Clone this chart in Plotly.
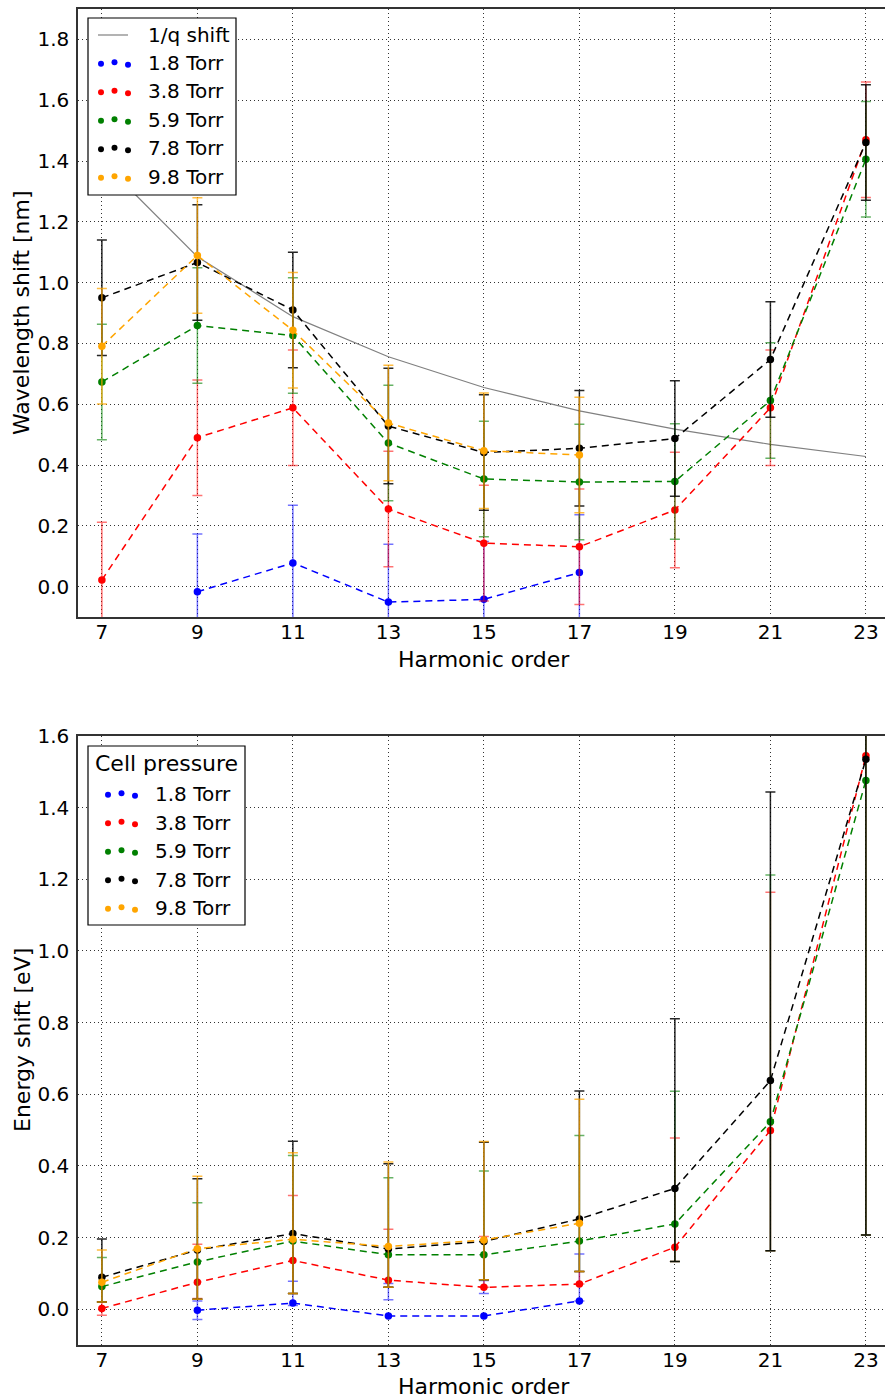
import plotly.graph_objects as go

W, H = 885, 1399

# ---------------- data ----------------
harmonics = [7, 9, 11, 13, 15, 17, 19, 21, 23]
pressures = ["1.8 Torr", "3.8 Torr", "5.9 Torr", "7.8 Torr", "9.8 Torr"]
colors = ["blue", "red", "green", "black", "orange"]
err_colors = ["rgba(0,0,255,0.55)", "rgba(255,0,0,0.55)", "rgba(0,128,0,0.6)",
              "rgba(0,0,0,0.85)", "rgba(255,165,0,0.75)"]

# wavelength shift [nm]
wl_blue = [None, -0.017, 0.078, -0.051, -0.042, 0.046, None, None, None]
wl_red = [0.022, 0.490, 0.588, 0.255, 0.143, 0.131, 0.252, 0.588, 1.470]
wl_green = [0.673, 0.859, 0.826, 0.472, 0.354, 0.344, 0.346, 0.612, 1.406]
wl_black = [0.950, 1.066, 0.910, 0.528, 0.441, 0.455, 0.487, 0.747, 1.461]
wl_orange = [0.791, 1.089, 0.843, 0.538, 0.447, 0.433, None, None, None]
wl_err = 0.19

# 1/q shift reference curve
inv_q_shift = [1.40, 1.085, 0.888, 0.756, 0.655, 0.578, 0.518, 0.468, 0.428]

# energy shift [eV]
en_blue = [None, -0.003, 0.017, -0.019, -0.019, 0.023, None, None, None]
en_red = [0.002, 0.075, 0.136, 0.081, 0.061, 0.070, 0.173, 0.499, 1.545]
en_green = [0.063, 0.132, 0.190, 0.152, 0.152, 0.190, 0.238, 0.523, 1.476]
en_black = [0.089, 0.165, 0.211, 0.168, 0.189, 0.252, 0.337, 0.638, 1.535]
en_orange = [0.075, 0.169, 0.195, 0.175, 0.193, 0.240, None, None, None]

# energy error bar upper / lower ends [eV]
en_blue_hi = [None, 0.023, 0.078, 0.072, 0.080, 0.154, None, None, None]
en_blue_lo = [None, -0.029, 0.010, 0.026, 0.044, 0.023, None, None, None]
en_red_hi = [0.021, 0.181, 0.317, 0.223, 0.203, 0.105, 0.478, 1.164, 2.60]
en_red_lo = [-0.017, 0.030, 0.044, 0.061, 0.061, 0.070, 0.133, 0.163, 0.207]
en_green_hi = [0.144, 0.297, 0.429, 0.367, 0.386, 0.485, 0.608, 1.212, 2.60]
en_green_lo = [0.020, 0.028, 0.044, 0.061, 0.082, 0.105, 0.133, 0.163, 0.207]
en_black_hi = [0.196, 0.364, 0.469, 0.406, 0.466, 0.609, 0.811, 1.444, 2.90]
en_black_lo = [0.020, 0.028, 0.044, 0.061, 0.082, 0.105, 0.133, 0.163, 0.207]
en_orange_hi = [0.165, 0.371, 0.437, 0.411, 0.468, 0.586, None, None, None]
en_orange_lo = [0.020, 0.028, 0.044, 0.061, 0.082, 0.105, None, None, None]

wl_series = [wl_blue, wl_red, wl_green, wl_black, wl_orange]
en_series = [en_blue, en_red, en_green, en_black, en_orange]
en_hi = [en_blue_hi, en_red_hi, en_green_hi, en_black_hi, en_orange_hi]
en_lo = [en_blue_lo, en_red_lo, en_green_lo, en_black_lo, en_orange_lo]

FONT = "DejaVu Sans"


def px(x):
    return x / W


def py(y):
    return 1 - y / H


fig = go.Figure()

# top: 1/q reference
fig.add_trace(go.Scatter(x=harmonics, y=inv_q_shift, mode="lines",
                         line=dict(color="gray", width=1.2),
                         xaxis="x", yaxis="y", showlegend=False))

for vals, c, ec in zip(wl_series, colors, err_colors):
    errs = [None if v is None else wl_err for v in vals]
    fig.add_trace(go.Scatter(
        x=harmonics, y=vals, mode="lines+markers",
        line=dict(color=c, width=1.5, dash="7px,5px"),
        marker=dict(color=c, size=7.5),
        error_y=dict(type="data", array=errs, symmetric=True,
                     color=ec, thickness=1.5, width=5),
        xaxis="x", yaxis="y", showlegend=False))

for vals, hi, lo, c, ec in zip(en_series, en_hi, en_lo, colors, err_colors):
    plus = [None if v is None else h - v for v, h in zip(vals, hi)]
    minus = [None if v is None else v - l for v, l in zip(vals, lo)]
    fig.add_trace(go.Scatter(
        x=harmonics, y=vals, mode="lines+markers",
        line=dict(color=c, width=1.5, dash="7px,5px"),
        marker=dict(color=c, size=7.5),
        error_y=dict(type="data", array=plus, arrayminus=minus, symmetric=False,
                     color=ec, thickness=1.5, width=5),
        xaxis="x2", yaxis="y2", showlegend=False))

axis_common = dict(
    showline=True, linecolor="#333", linewidth=1.5,
    showgrid=True, gridcolor="rgba(0,0,0,0.8)", gridwidth=1, griddash="1px,3px",
    zeroline=False, ticks="", automargin=False,
    tickfont=dict(family=FONT, size=20, color="black"),
)

x_dom = [px(78), 1.0]
fig.update_layout(
    width=W, height=H,
    margin=dict(l=0, r=0, t=0, b=0, pad=0),
    paper_bgcolor="white", plot_bgcolor="white",
    showlegend=False,
    xaxis=dict(domain=x_dom, anchor="y", range=[6.5, 23.4], tickvals=harmonics,
               mirror=True, ticklabelstandoff=-4, **axis_common),
    yaxis=dict(domain=[py(617), py(9)], anchor="x", range=[-0.1, 1.9],
               tick0=0, dtick=0.2, tickformat=".1f", ticklabelstandoff=3,
               **axis_common),
    xaxis2=dict(domain=x_dom, anchor="y2", range=[6.5, 23.4], tickvals=harmonics,
                mirror=True, ticklabelstandoff=-4, **axis_common),
    yaxis2=dict(domain=[py(1345), py(736)], anchor="x2", range=[-0.1, 1.6],
                tick0=0, dtick=0.2, tickformat=".1f", ticklabelstandoff=3,
                **axis_common),
)

annotations = []
shapes = []

LABEL = dict(family=FONT, size=22, color="black")
annotations.append(dict(text="Harmonic order", x=px(484), y=py(659), xref="paper", yref="paper",
                        showarrow=False, font=LABEL, xanchor="center", yanchor="middle"))
annotations.append(dict(text="Harmonic order", x=px(484), y=py(1386), xref="paper", yref="paper",
                        showarrow=False, font=LABEL, xanchor="center", yanchor="middle"))
annotations.append(dict(text="Wavelength shift [nm]", x=px(22), y=py(313), xref="paper", yref="paper",
                        showarrow=False, font=LABEL, textangle=-90, xanchor="center", yanchor="middle"))
annotations.append(dict(text="Energy shift [eV]", x=px(22), y=py(1040), xref="paper", yref="paper",
                        showarrow=False, font=LABEL, textangle=-90, xanchor="center", yanchor="middle"))

LEG = dict(family=FONT, size=20, color="black")

# top legend
shapes.append(dict(type="rect", xref="paper", yref="paper", layer="above",
                   x0=px(88), x1=px(236), y0=py(195), y1=py(18),
                   line=dict(color="black", width=1.2), fillcolor="white"))
shapes.append(dict(type="line", xref="paper", yref="paper", layer="above",
                   x0=px(98), x1=px(128), y0=py(35), y1=py(35),
                   line=dict(color="gray", width=1.2)))
annotations.append(dict(text="1/q shift", x=px(146), y=py(35), xref="paper", yref="paper",
                        showarrow=False, font=LEG, xanchor="left", yanchor="middle"))
dot_dx = [0, 13.5, 27]
dot_dy = [0.7, -0.8, 1.7]
r = 3.0
for i, (name, c) in enumerate(zip(pressures, colors)):
    yc = 63 + i * 28.5
    for dx, dy in zip(dot_dx, dot_dy):
        cx, cy = 101 + dx, yc + dy
        shapes.append(dict(type="circle", xref="paper", yref="paper", layer="above",
                           x0=px(cx - r), x1=px(cx + r), y0=py(cy + r), y1=py(cy - r),
                           line=dict(width=0), fillcolor=c))
    annotations.append(dict(text=name, x=px(146), y=py(yc), xref="paper", yref="paper",
                            showarrow=False, font=LEG, xanchor="left", yanchor="middle"))

# bottom legend
shapes.append(dict(type="rect", xref="paper", yref="paper", layer="above",
                   x0=px(88), x1=px(245), y0=py(925), y1=py(746),
                   line=dict(color="black", width=1.2), fillcolor="white"))
annotations.append(dict(text="Cell pressure", x=px(166.5), y=py(763), xref="paper", yref="paper",
                        showarrow=False, font=dict(family=FONT, size=22, color="black"),
                        xanchor="center", yanchor="middle"))
for i, (name, c) in enumerate(zip(pressures, colors)):
    yc = 794 + i * 28.5
    for dx, dy in zip(dot_dx, dot_dy):
        cx, cy = 108 + dx, yc + dy
        shapes.append(dict(type="circle", xref="paper", yref="paper", layer="above",
                           x0=px(cx - r), x1=px(cx + r), y0=py(cy + r), y1=py(cy - r),
                           line=dict(width=0), fillcolor=c))
    annotations.append(dict(text=name, x=px(153), y=py(yc), xref="paper", yref="paper",
                            showarrow=False, font=LEG, xanchor="left", yanchor="middle"))

fig.update_layout(annotations=annotations, shapes=shapes)

fig.write_html("out.html")
